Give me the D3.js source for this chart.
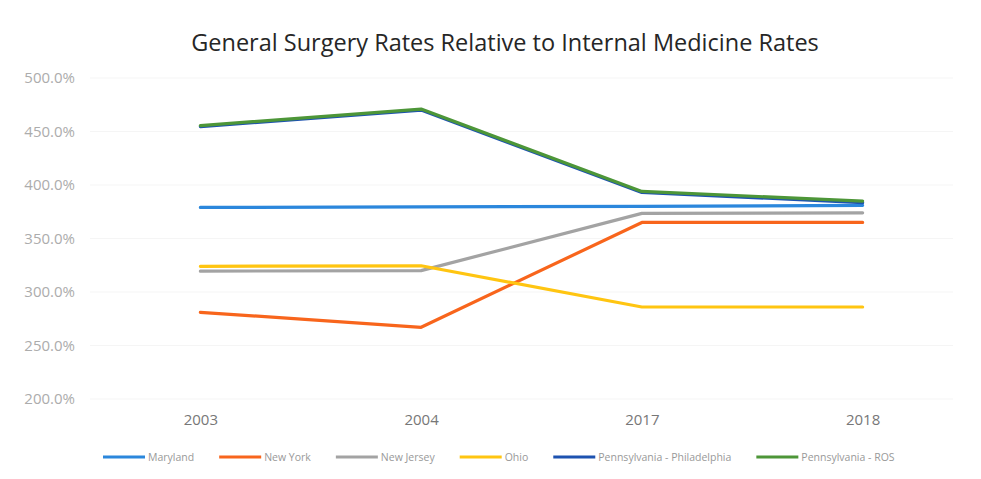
<!DOCTYPE html>
<html>
<head>
<meta charset="utf-8">
<script src="https://cdn.jsdelivr.net/npm/d3@7"></script>
<style>
  body { margin: 0; background: #fff; }
  svg { font-family: "Open Sans", Lato, sans-serif; }
</style>
</head>
<body>
<div id="chart"></div>
<script>
const years = ["2003", "2004", "2017", "2018"];
const seriesNames = ["Maryland", "New York", "New Jersey", "Ohio", "Pennsylvania - Philadelphia", "Pennsylvania - ROS"];
const seriesColors = ["#2b87dc", "#f8651c", "#a3a3a3", "#ffc511", "#1d52b0", "#4d9638"];
const maryland = [379, 379.5, 380, 381];
const newYork = [281, 267, 365, 365];
const newJersey = [319.5, 320, 373.5, 374];
const ohio = [324, 324.5, 286, 286];
const philadelphia = [454.5, 470, 393, 383.5];
const ros = [455.5, 471, 394, 385];
const yTicks = [200, 250, 300, 350, 400, 450, 500];

const allSeries = [maryland, newYork, newJersey, ohio, philadelphia, ros];

const WIDTH = 981, HEIGHT = 479;
const MARGIN = { TOP: 78, BOTTOM: 80, LEFT: 90, RIGHT: 8 };

const svg = d3.select("#chart")
  .append("svg")
  .attr("width", WIDTH)
  .attr("height", HEIGHT);

// title
svg.append("text")
  .attr("x", 505)
  .attr("y", 51)
  .attr("text-anchor", "middle")
  .style("font-size", "23.5px")
  .style("fill", "#262626")
  .text("General Surgery Rates Relative to Internal Medicine Rates");

const x = d3.scalePoint()
  .domain(years)
  .range([MARGIN.LEFT, WIDTH - MARGIN.RIGHT])
  .padding(0.5);

const y = d3.scaleLinear()
  .domain([200, 500])
  .range([HEIGHT - MARGIN.BOTTOM, MARGIN.TOP]);

// gridlines
svg.append("g")
  .selectAll("line")
  .data(yTicks)
  .enter()
  .append("line")
  .attr("x1", MARGIN.LEFT)
  .attr("x2", WIDTH - MARGIN.RIGHT - 20)
  .attr("y1", d => y(d))
  .attr("y2", d => y(d))
  .attr("stroke", "#f5f5f5")
  .attr("stroke-width", 1);

// y axis labels
const yAxis = svg.append("g")
  .attr("transform", `translate(${MARGIN.LEFT - 12}, 0)`)
  .call(d3.axisLeft(y).tickValues(yTicks).tickSize(0).tickFormat(d => d3.format(".1f")(d) + "%"));
yAxis.select(".domain").remove();
yAxis.selectAll("text")
  .style("font-size", "15px")
  .style("font-family", "'Open Sans', sans-serif")
  .style("fill", "#acacac");

// x axis labels
const xAxis = svg.append("g")
  .attr("transform", `translate(0, ${HEIGHT - MARGIN.BOTTOM + 12})`)
  .call(d3.axisBottom(x).tickSize(0));
xAxis.select(".domain").remove();
xAxis.selectAll("text")
  .style("font-size", "15px")
  .style("font-family", "'Open Sans', sans-serif")
  .style("fill", "#777");

// lines
const line = d3.line()
  .x((d, i) => x(years[i]))
  .y(d => y(d));

svg.append("g")
  .selectAll("path")
  .data(allSeries)
  .enter()
  .append("path")
  .attr("d", line)
  .attr("fill", "none")
  .attr("stroke", (d, i) => seriesColors[i])
  .attr("stroke-width", 3.2)
  .attr("stroke-linejoin", "round")
  .attr("stroke-linecap", "round");

// legend
const legend = svg.append("g").attr("transform", `translate(103, 457)`);
let lx = 0;
seriesNames.forEach((name, i) => {
  const g = legend.append("g").attr("transform", `translate(${lx}, 0)`);
  g.append("line")
    .attr("x1", 0).attr("x2", 42)
    .attr("stroke", seriesColors[i])
    .attr("stroke-width", 3.2);
  const t = g.append("text")
    .attr("x", 45)
    .attr("dy", "0.35em")
    .style("font-size", "10.5px")
    .style("fill", "#999")
    .text(name);
  lx += 45 + t.node().getComputedTextLength() + 25;
});
</script>
</body>
</html>
